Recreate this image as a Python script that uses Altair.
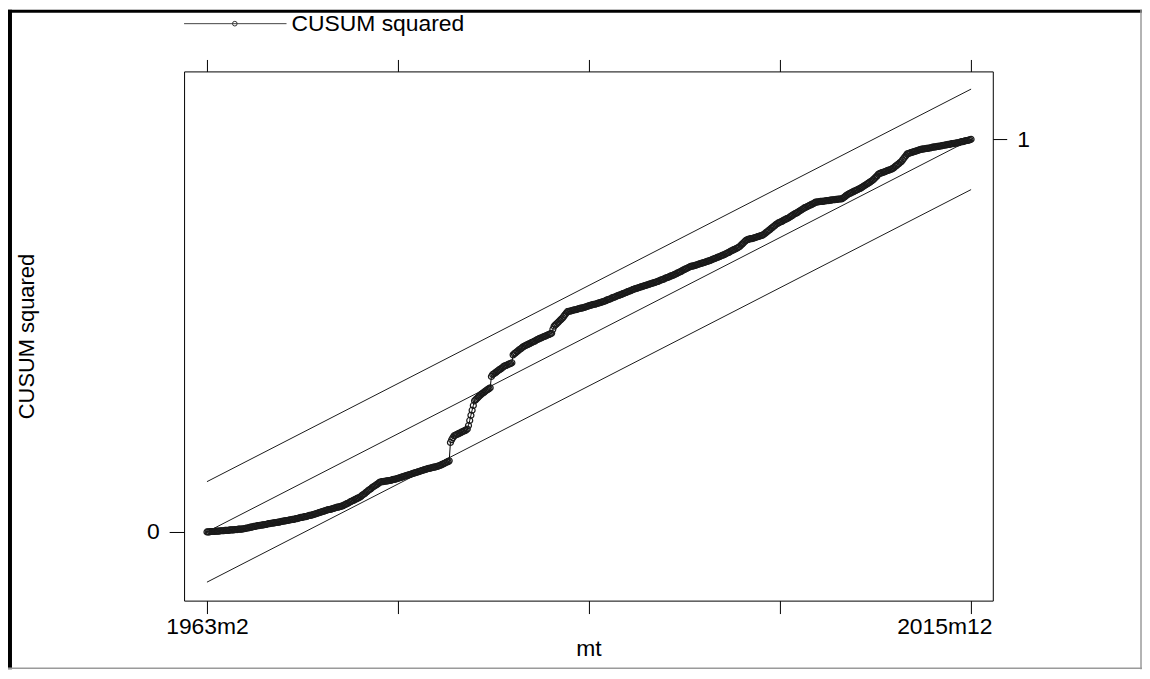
import altair as alt
import pandas as pd

series_name = "CUSUM squared"
x_title = "mt"
first_label = "1963m2"
last_label = "2015m12"
crit = 0.128  # half-width of the 5% significance band

# CUSUM of squares, monthly, 1963m2 .. 1980m11 (before the first break)
cusum_part1 = [
    0.000, 0.000, 0.000, 0.001, 0.001, 0.001, 0.001, 0.002, 0.002, 0.002, 0.002,
    0.003, 0.003, 0.003, 0.003, 0.004, 0.004,
    0.004, 0.004, 0.005, 0.005, 0.005, 0.005, 0.006, 0.006, 0.006, 0.007, 0.007, 0.007, 0.007, 0.008,
    0.008, 0.009, 0.010, 0.010, 0.011, 0.012, 0.012, 0.013, 0.014, 0.014, 0.015, 0.016, 0.016, 0.017,
    0.017, 0.018, 0.018, 0.019, 0.019, 0.020, 0.021, 0.021, 0.022, 0.022, 0.023, 0.023, 0.024,
    0.024, 0.025, 0.025, 0.026, 0.027, 0.027, 0.028, 0.028, 0.029, 0.029, 0.030, 0.031, 0.031, 0.032,
    0.032, 0.033, 0.034, 0.034, 0.035, 0.036, 0.037, 0.037, 0.038, 0.039, 0.039, 0.040, 0.041, 0.042,
    0.042, 0.043, 0.044, 0.045, 0.046, 0.047, 0.048, 0.049, 0.050, 0.051, 0.052, 0.053, 0.054, 0.055,
    0.056, 0.057, 0.057, 0.058, 0.059, 0.060, 0.061, 0.062, 0.063, 0.063, 0.064, 0.065, 0.066, 0.067,
    0.069, 0.070, 0.072, 0.073, 0.075, 0.077, 0.078, 0.080,
    0.081, 0.083, 0.084, 0.086, 0.087, 0.089,
    0.091, 0.094, 0.096, 0.098, 0.101, 0.103, 0.106, 0.108, 0.110, 0.113,
    0.115, 0.117, 0.119, 0.121, 0.123, 0.126,
    0.127, 0.128, 0.128, 0.129, 0.129, 0.130, 0.130, 0.131, 0.131, 0.132, 0.133,
    0.134, 0.134, 0.135, 0.136, 0.137, 0.138, 0.139, 0.140, 0.141, 0.142, 0.143,
    0.144, 0.145, 0.146, 0.147, 0.148, 0.149, 0.150, 0.151, 0.152, 0.153, 0.154, 0.155, 0.156, 0.157, 0.158, 0.159,
    0.160, 0.161, 0.162, 0.162, 0.163, 0.164, 0.165, 0.165, 0.166, 0.167, 0.168, 0.169,
    0.170, 0.172, 0.173, 0.175, 0.176, 0.178, 0.179, 0.181,
]

# 1980m12 .. 1988m4 (the jumps)
cusum_part2 = [
    0.228, 0.235, 0.240, 0.245,
    0.246, 0.248, 0.249, 0.251, 0.252, 0.254, 0.255, 0.257, 0.258, 0.260, 0.262,
    0.271, 0.284, 0.297, 0.310, 0.322, 0.334,
    0.337, 0.340, 0.343, 0.346, 0.349,
    0.352, 0.354, 0.356, 0.359, 0.361, 0.363, 0.365, 0.367,
    0.396, 0.401,
    0.403, 0.405, 0.407, 0.410, 0.412, 0.414, 0.416, 0.418, 0.421,
    0.423, 0.424, 0.425, 0.427, 0.428, 0.429, 0.431,
    0.451,
    0.454, 0.456, 0.459, 0.461, 0.464, 0.466, 0.468, 0.471, 0.473,
    0.474, 0.476, 0.477, 0.479, 0.480, 0.482, 0.483, 0.485, 0.486, 0.488, 0.490,
    0.491, 0.493, 0.494, 0.495, 0.497, 0.498, 0.499, 0.501, 0.502, 0.503, 0.505, 0.506,
    0.516, 0.524,
    0.527, 0.530, 0.533, 0.536, 0.539, 0.542, 0.545, 0.549,
    0.553, 0.557, 0.561,
]

# 1988m5 .. 2015m12
cusum_part3 = [
    0.562, 0.562, 0.563, 0.564, 0.565, 0.566, 0.566, 0.567, 0.568, 0.569, 0.570, 0.570, 0.571, 0.572, 0.573, 0.574,
    0.575, 0.576, 0.577, 0.578, 0.579, 0.580, 0.580, 0.581, 0.582, 0.583, 0.584, 0.585, 0.586, 0.587,
    0.588, 0.589, 0.591, 0.592, 0.593, 0.594, 0.596, 0.597, 0.598, 0.599, 0.601, 0.602, 0.603,
    0.604, 0.605, 0.607, 0.608, 0.609, 0.610, 0.612, 0.613, 0.614, 0.615, 0.617, 0.618, 0.619, 0.620,
    0.621, 0.622, 0.623, 0.624, 0.625, 0.626, 0.627, 0.628, 0.629, 0.630, 0.631, 0.632, 0.633, 0.634, 0.635, 0.636, 0.637,
    0.638, 0.639, 0.641, 0.642, 0.643, 0.644, 0.646, 0.647, 0.648, 0.649, 0.651, 0.652, 0.653,
    0.654, 0.656, 0.657, 0.659, 0.660, 0.662, 0.663, 0.665, 0.667, 0.668, 0.670, 0.671, 0.673, 0.674,
    0.676, 0.677, 0.677, 0.678, 0.679, 0.680, 0.681, 0.682, 0.683, 0.684, 0.685, 0.686, 0.687, 0.688,
    0.689, 0.690, 0.691, 0.692, 0.694, 0.695, 0.696, 0.697, 0.699, 0.700, 0.701, 0.702, 0.704, 0.705,
    0.706, 0.708, 0.709, 0.711, 0.712, 0.714, 0.716, 0.717, 0.719, 0.720, 0.722, 0.723, 0.725,
    0.727, 0.730, 0.733, 0.736, 0.739, 0.742,
    0.744, 0.745, 0.746, 0.747, 0.747, 0.748, 0.749, 0.750, 0.751, 0.752, 0.753, 0.754, 0.755, 0.756,
    0.758, 0.760, 0.763, 0.765, 0.768, 0.770, 0.773, 0.775, 0.778, 0.780, 0.783,
    0.785, 0.787, 0.788, 0.790, 0.791, 0.793, 0.795, 0.796, 0.798, 0.799,
    0.801, 0.803, 0.805, 0.807, 0.809, 0.811, 0.812, 0.814, 0.816, 0.818, 0.820, 0.822,
    0.824, 0.826, 0.827, 0.829, 0.830, 0.832, 0.833, 0.835, 0.836, 0.838, 0.840,
    0.840, 0.841, 0.841, 0.842, 0.842, 0.842, 0.843, 0.843, 0.844, 0.844, 0.844, 0.845, 0.845, 0.846, 0.846, 0.846,
    0.847, 0.847, 0.848, 0.848, 0.848, 0.849,
    0.851, 0.853, 0.856, 0.858, 0.860,
    0.862, 0.863, 0.865, 0.866, 0.868, 0.869, 0.871, 0.872, 0.874, 0.875, 0.877,
    0.879, 0.881, 0.883, 0.885, 0.887, 0.889, 0.891, 0.893, 0.895,
    0.898, 0.901, 0.904, 0.907, 0.911,
    0.913, 0.914, 0.915, 0.916, 0.917, 0.918, 0.920, 0.921, 0.922, 0.923, 0.924,
    0.926, 0.928, 0.931, 0.933, 0.936, 0.938, 0.941, 0.943,
    0.947, 0.951, 0.955, 0.959, 0.963,
    0.964, 0.965, 0.966, 0.967, 0.968, 0.969, 0.970, 0.971, 0.972, 0.973, 0.974, 0.975,
    0.975, 0.976, 0.976, 0.977, 0.977, 0.978, 0.978, 0.979, 0.980, 0.980, 0.981, 0.981, 0.982, 0.982, 0.983, 0.983,
    0.984, 0.985, 0.985, 0.986, 0.986, 0.987, 0.987, 0.988, 0.989, 0.989, 0.990, 0.990, 0.991, 0.991,
    0.992, 0.993, 0.994, 0.994, 0.995, 0.996, 0.997, 0.997, 0.998, 0.999, 1.000,
]

cusum = cusum_part1 + cusum_part2 + cusum_part3
n = len(cusum)
last = n - 1
df = pd.DataFrame({"t": list(range(n)), "v": cusum})

band_t = [0, last]
center_line = [0.0, 1.0]
upper_line = [crit, 1.0 + crit]
lower_line = [-crit, 1.0 - crit]
bdf = pd.DataFrame({
    "t": band_t * 3,
    "v": center_line + upper_line + lower_line,
    "s": ["center"] * 2 + ["upper"] * 2 + ["lower"] * 2,
})

xticks = [last * i / 4 for i in range(5)]

FONT = "Liberation Sans"
xscale = alt.Scale(domain=[-19, 652], nice=False, zero=False)
yscale = alt.Scale(domain=[-0.175, 1.173], nice=False, zero=False)

x_bottom = alt.Axis(
    orient="bottom", values=xticks, grid=False, domain=False,
    labelExpr=f"datum.value == 0 ? '{first_label}' : (datum.value == {last} ? '{last_label}' : '')",
    labelAlign={"condition": {"test": f"datum.value == {last}", "value": "right"}, "value": "center"},
    labelOffset={"condition": {"test": f"datum.value == {last}", "value": 21}, "value": 0},
    labelFlush=False, labelOverlap=False,
    tickSize=13, tickColor="black", tickWidth=1,
    labelFont=FONT, labelFontSize=23, labelColor="black", labelPadding=2,
    title=x_title, titleFont=FONT, titleFontSize=23, titleFontWeight="normal",
    titleColor="black", titleY=48, titleBaseline="middle",
)
x_top = alt.Axis(
    orient="top", values=xticks, grid=False, domain=False, labels=False,
    tickSize=12, tickColor="black", tickWidth=1, title=None,
)
y_left = alt.Axis(
    orient="left", values=[0], format=".0f", grid=False, domain=False,
    tickSize=15, tickColor="black", tickWidth=1,
    labelFont=FONT, labelFontSize=23, labelColor="black", labelPadding=10,
    title=series_name, titleFont=FONT, titleFontSize=22, titleFontWeight="normal",
    titleColor="black", titleX=-158, titleY=266, titleAlign="center",
    titleBaseline="middle", titleAngle=270,
)
y_right = alt.Axis(
    orient="right", values=[1], format=".0f", grid=False, domain=False,
    tickSize=14, tickColor="black", tickWidth=1,
    labelFont=FONT, labelFontSize=23, labelColor="black", labelPadding=10,
    title=None,
)

bands = alt.Chart(bdf).mark_line(color="black", strokeWidth=0.9).encode(
    x=alt.X("t:Q", scale=xscale, axis=x_bottom),
    y=alt.Y("v:Q", scale=yscale, axis=y_left),
    detail="s:N",
)

cline = alt.Chart(df).mark_line(color="black", strokeWidth=1).encode(
    x=alt.X("t:Q", scale=xscale, axis=x_top),
    y=alt.Y("v:Q", scale=yscale, axis=y_right),
)

cpts = alt.Chart(df).mark_point(
    shape="circle", filled=False, size=36, strokeWidth=1.2, color="#1a1a1a", opacity=1
).encode(
    x=alt.X("t:Q", scale=xscale, axis=None),
    y=alt.Y("v:Q", scale=yscale, axis=None),
)

dummy = alt.Data(values=[{"a": 1}])
frame_left = alt.Chart(dummy).mark_rule(color="black", strokeWidth=4).encode(
    x=alt.value(-175), y=alt.value(-62), y2=alt.value(601))
frame_top = alt.Chart(dummy).mark_rule(color="black", strokeWidth=3).encode(
    y=alt.value(-60.5), x=alt.value(-177), x2=alt.value(963))
frame_right = alt.Chart(dummy).mark_rule(color="#9a9a9a", strokeWidth=1.5).encode(
    x=alt.value(962), y=alt.value(-62), y2=alt.value(601))
frame_bottom = alt.Chart(dummy).mark_rule(color="#9a9a9a", strokeWidth=1.5).encode(
    y=alt.value(600), x=alt.value(-177), x2=alt.value(963))

leg_line = alt.Chart(dummy).mark_rule(color="#444", strokeWidth=1).encode(
    x=alt.value(0), x2=alt.value(103), y=alt.value(-48))
leg_pt = alt.Chart(dummy).mark_point(
    shape="circle", filled=False, size=22, strokeWidth=1, color="#333", opacity=1
).encode(x=alt.value(51), y=alt.value(-48))
leg_txt = alt.Chart(dummy).mark_text(
    align="left", baseline="middle", font=FONT, fontSize=23, color="black"
).encode(x=alt.value(108), y=alt.value(-48), text=alt.value(series_name))

chart = alt.layer(
    bands, cline, cpts,
    frame_left, frame_top, frame_right, frame_bottom,
    leg_line, leg_pt, leg_txt,
).resolve_axis(x="independent", y="independent").properties(
    width=813, height=532,
    autosize=alt.AutoSizeParams(type="none"),
    padding={"left": 177, "top": 62, "right": 150, "bottom": 69},
    background="white",
).configure_view(stroke="black", strokeWidth=1)

chart.save("out.html", embed_options={"renderer": "svg", "actions": False})
